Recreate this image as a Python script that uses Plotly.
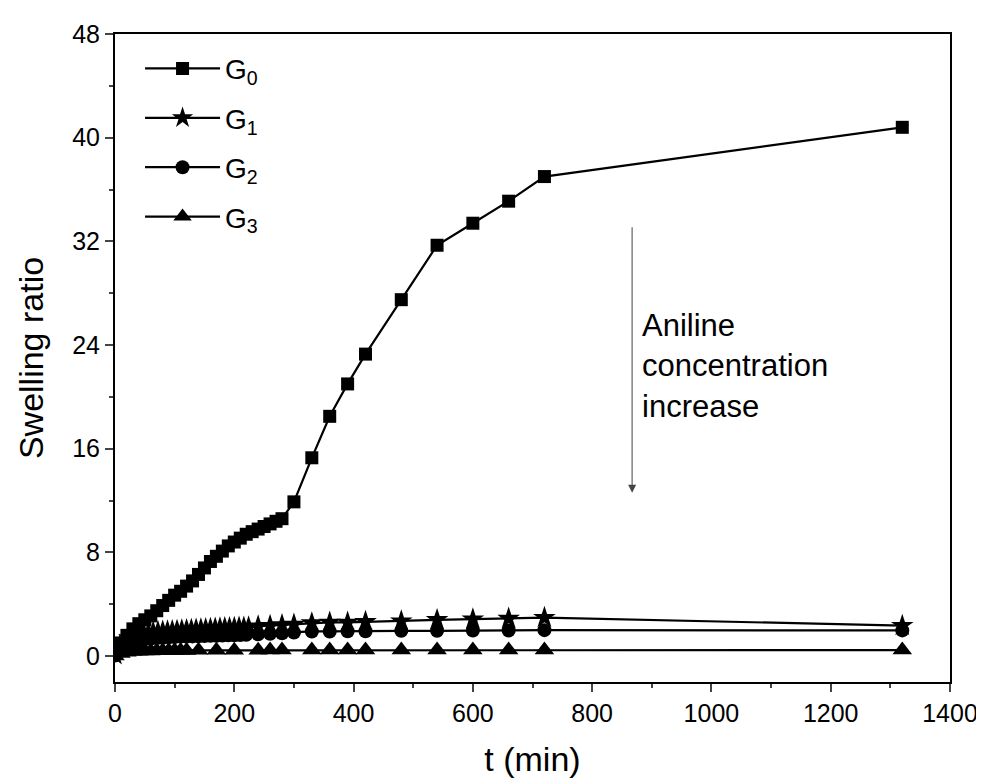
import plotly.graph_objects as go

# ---------------- data ----------------
g0_t = [0, 10, 20, 30, 40, 50, 60, 70, 80, 90, 100, 110, 120, 130, 140, 150, 160, 170, 180, 190,
        200, 210, 220, 230, 240, 250, 260, 270, 280, 300, 330, 360, 390, 420, 480, 540, 600, 660, 720, 1320]
g0_y = [0.3, 1.0, 1.6, 2.1, 2.5, 2.8, 3.1, 3.5, 3.9, 4.3, 4.7, 5.0, 5.4, 5.8, 6.3, 6.8, 7.3, 7.7, 8.1, 8.5,
        8.8, 9.1, 9.4, 9.6, 9.8, 10.0, 10.2, 10.4, 10.6, 11.9, 15.3, 18.5, 21.0, 23.3, 27.5, 31.7, 33.4, 35.1, 37.0, 40.8]

g1_t = [0, 8, 16, 24, 32, 40, 48, 56, 64, 72, 80, 88, 96, 104, 112, 120, 128, 136, 144, 152,
        160, 168, 176, 184, 192, 200, 208, 216, 224, 240, 260, 280, 300, 330, 360, 390, 420, 480, 540, 600, 660, 720, 1320]
g1_y = [0.1, 0.8, 1.2, 1.4, 1.55, 1.65, 1.75, 1.8, 1.85, 1.88, 1.9, 1.92, 1.95, 1.97, 2.0, 2.02, 2.04, 2.06, 2.08, 2.1,
        2.12, 2.14, 2.15, 2.17, 2.18, 2.2, 2.21, 2.22, 2.23, 2.3, 2.35, 2.4, 2.45, 2.55, 2.6, 2.6, 2.65, 2.7, 2.8, 2.85, 2.9, 2.97, 2.35]

g2_t = [0, 10, 20, 30, 40, 50, 60, 70, 80, 90, 100, 110, 120, 130, 140, 150, 160, 170, 180, 190,
        200, 210, 220, 240, 260, 280, 300, 330, 360, 390, 420, 480, 540, 600, 660, 720, 1320]
g2_y = [0.05, 0.6, 0.9, 1.1, 1.2, 1.3, 1.35, 1.4, 1.42, 1.45, 1.47, 1.5, 1.5, 1.52, 1.53, 1.55, 1.56, 1.57, 1.58, 1.6,
        1.61, 1.62, 1.64, 1.68, 1.72, 1.76, 1.82, 1.9, 1.9, 1.92, 1.92, 1.95, 1.95, 1.97, 1.97, 2.0, 1.98]

g3_t = [0, 10, 20, 30, 40, 50, 60, 70, 80, 90, 100, 110, 120, 140, 170, 200, 240, 260, 280,
        330, 360, 390, 420, 480, 540, 600, 660, 720, 1320]
g3_y = [0.0, 0.2, 0.3, 0.35, 0.38, 0.4, 0.4, 0.42, 0.42, 0.43, 0.43, 0.44, 0.44, 0.45, 0.45, 0.45, 0.45, 0.46, 0.46,
        0.46, 0.46, 0.46, 0.46, 0.46, 0.46, 0.46, 0.46, 0.46, 0.46]

series_names = ["G<sub>0</sub>", "G<sub>1</sub>", "G<sub>2</sub>", "G<sub>3</sub>"]
x_ticks = [0, 200, 400, 600, 800, 1000, 1200, 1400]
y_ticks = [0, 8, 16, 24, 32, 40, 48]

FONT = "Liberation Sans, Arial, sans-serif"

fig = go.Figure()
specs = [
    (g0_t, g0_y, "square", 13),
    (g1_t, g1_y, "star", 17),
    (g2_t, g2_y, "circle", 14),
    (g3_t, g3_y, "triangle-up", 17),
]
for i, (t, y, sym, sz) in enumerate(specs):
    fig.add_trace(go.Scatter(
        x=t, y=y, mode="lines+markers", name=series_names[i], legendgroup=str(i),
        line=dict(color="black", width=2.2),
        marker=dict(symbol=sym, size=sz, color="black", line=dict(width=0)),
    ))

fig.add_annotation(x=867, y=12.6, ax=867, ay=33.2, axref="x", ayref="y", xref="x", yref="y",
                   showarrow=True, arrowhead=2, arrowsize=1.6, arrowwidth=1, arrowcolor="#444", text="")
fig.add_annotation(x=880, y=27.0, xref="x", yref="y", xanchor="left", yanchor="top", align="left",
                   showarrow=False, text="Aniline<br>concentration<br>increase",
                   font=dict(family=FONT, size=31, color="black"))

fig.update_layout(
    width=984, height=780,
    margin=dict(l=107, r=42, t=20, b=106),
    paper_bgcolor="white", plot_bgcolor="white",
    font=dict(family=FONT, color="black"),
    showlegend=True,
    legend=dict(x=0.03, y=0.985, xanchor="left", yanchor="top", bgcolor="rgba(0,0,0,0)",
                font=dict(family=FONT, size=28), tracegroupgap=10, itemwidth=75),
)
fig.update_xaxes(range=[0, 1400], tickvals=x_ticks, ticks="outside", ticklen=8, tickwidth=1.5,
                 minor=dict(dtick=100, tick0=0, ticks="outside", ticklen=4, tickwidth=1.5),
                 showline=True, linecolor="black", linewidth=2, mirror=True,
                 showgrid=False, zeroline=False, tickfont=dict(size=25),
                 title=dict(text="t (min)", font=dict(size=34), standoff=21))
fig.update_yaxes(range=[-2, 48], tickvals=y_ticks, ticks="outside", ticklen=8, tickwidth=1.5,
                 minor=dict(dtick=4, tick0=0, ticks="outside", ticklen=4, tickwidth=1.5),
                 showline=True, linecolor="black", linewidth=2, mirror=True,
                 showgrid=False, zeroline=False, tickfont=dict(size=25),
                 title=dict(text="Swelling ratio", font=dict(size=34), standoff=18))

fig.write_html("out.html")
